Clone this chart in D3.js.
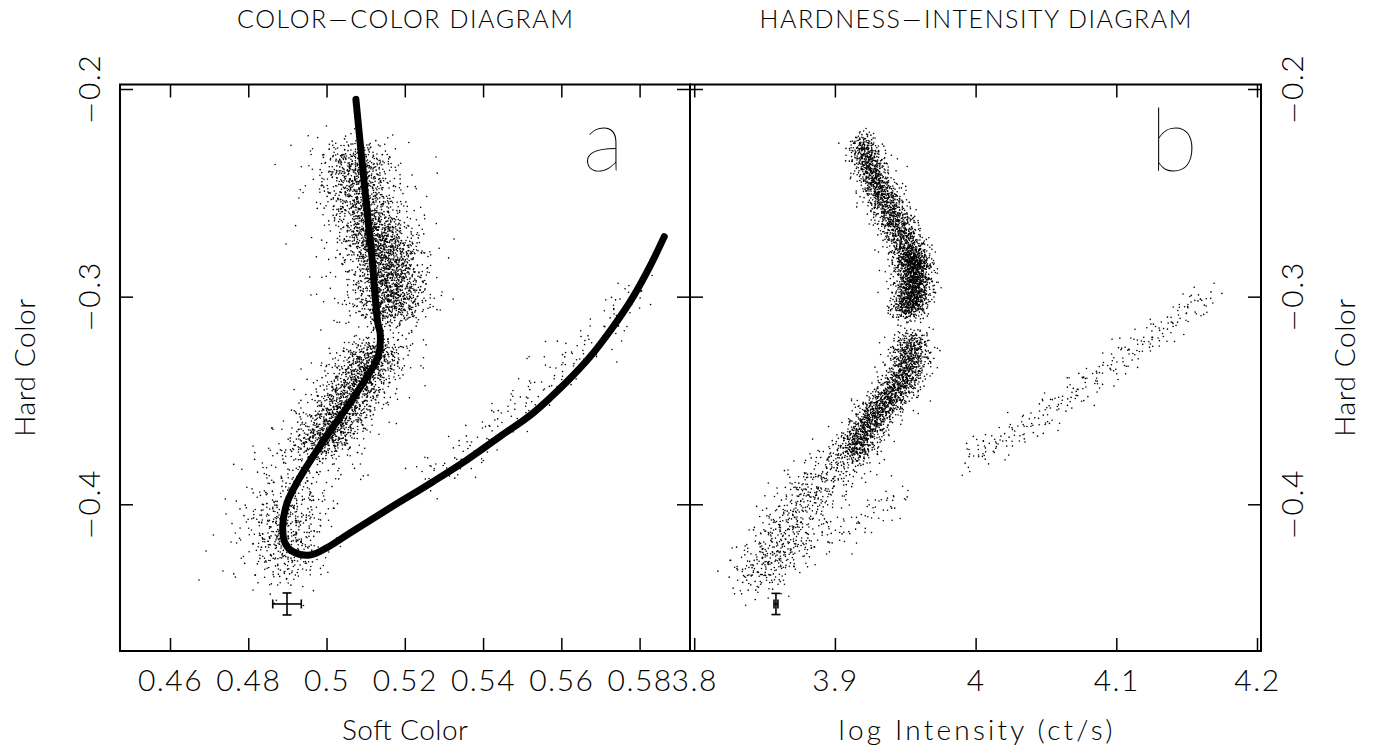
<!DOCTYPE html>
<html><head><meta charset="utf-8">
<script src="https://cdn.jsdelivr.net/npm/d3@7"></script>
<style>
html,body{margin:0;padding:0;background:#fff;}
svg{display:block;}
text{font-family:Lato,'DejaVu Sans',sans-serif;fill:#000;}
</style></head><body>
<svg id="chart" width="1381" height="749"></svg>
<script>
// ---------------- data ----------------
const softTicks = [0.46, 0.48, 0.50, 0.52, 0.54, 0.56, 0.58];
const intensityTicks = [3.8, 3.9, 4.0, 4.1, 4.2];
const hardTicks = [-0.2, -0.3, -0.4];
const softDomain = [0.44722, 0.59288];
const intensityDomain = [3.79701, 4.20284];
const hardDomain = [-0.47065, -0.19783];

// thick Z-track in the colour-colour diagram
const trackSoft = [0.5075,0.5098,0.5116,0.5131,0.5137,0.5132,0.5103,0.5060,0.5017,0.4965,0.4924,0.4899,0.4888,0.4894,0.4914,0.4958,0.5000,0.5060,0.5154,0.5272,0.5358,0.5443,0.5528,0.5614,0.5673,0.5730,0.5783,0.5827,0.5863];
const trackHard = [-0.2050,-0.2486,-0.2810,-0.3127,-0.3175,-0.3289,-0.3386,-0.3512,-0.3626,-0.3771,-0.3897,-0.3994,-0.4108,-0.4186,-0.4228,-0.4244,-0.4210,-0.4138,-0.4027,-0.3891,-0.3787,-0.3674,-0.3560,-0.3410,-0.3291,-0.3151,-0.3002,-0.2852,-0.2711];

// point clouds: [ridge line [x,y]..., spread x, spread y, number of points]
const ccdBands = [
  [[[0.5073,-0.2294],[0.5086,-0.2535],[0.5111,-0.2655]], 0.0041, 0.0038, 700],
  [[[0.5116,-0.2655],[0.5157,-0.2824],[0.5167,-0.3016],[0.5157,-0.3103]], 0.0043, 0.0038, 1500],
  [[[0.5060,-0.2294],[0.5124,-0.2679],[0.5137,-0.3064]], 0.0072, 0.0072, 500],
  [[[0.5132,-0.3233],[0.5086,-0.3401],[0.5034,-0.3570],[0.4978,-0.3739]], 0.0038, 0.0029, 1300],
  [[[0.5137,-0.3209],[0.5034,-0.3546],[0.4932,-0.3835],[0.4894,-0.4027],[0.4886,-0.4268]], 0.0064, 0.0058, 700],
  [[[0.4907,-0.3979],[0.4894,-0.4172],[0.4894,-0.4340]], 0.0046, 0.0072, 300],
  [[[0.5239,-0.3883],[0.5392,-0.3714],[0.5494,-0.3498],[0.5597,-0.3353],[0.5699,-0.3185],[0.5801,-0.2968]], 0.0026, 0.0058, 200]
];
const ccdSingles = [[0.46741,-0.43645],[0.4692,-0.42249],[0.47354,-0.43212],[0.47431,-0.40467],[0.47559,-0.41815],[0.48121,-0.44127],[0.48964,-0.27464],[0.52798,-0.23274],[0.53258,-0.27223],[0.49603,-0.2992],[0.52951,-0.29776]];

const hidBands = [
  [[[3.9193,-0.2246],[3.9249,-0.2390],[3.9335,-0.2510]], 0.0050, 0.0029, 600],
  [[[3.9335,-0.2510],[3.9427,-0.2631],[3.9520,-0.2751],[3.9555,-0.2848]], 0.0064, 0.0029, 800],
  [[[3.9548,-0.2799],[3.9569,-0.2920],[3.9555,-0.3016],[3.9505,-0.3074]], 0.0060, 0.0029, 1200],
  [[[3.9214,-0.2294],[3.9392,-0.2583],[3.9548,-0.2872],[3.9498,-0.3064]], 0.0085, 0.0048, 400],
  [[[3.9555,-0.3194],[3.9541,-0.3281],[3.9498,-0.3392],[3.9406,-0.3474],[3.9306,-0.3546],[3.9214,-0.3642],[3.9122,-0.3763]], 0.0064, 0.0029, 1500],
  [[[3.9548,-0.3209],[3.9463,-0.3425],[3.9249,-0.3618],[3.9072,-0.3811]], 0.0095, 0.0048, 400],
  [[[3.9036,-0.3796],[3.8880,-0.3907],[3.8752,-0.4003],[3.8645,-0.4148],[3.8525,-0.4292],[3.8397,-0.4365]], 0.0114, 0.0058, 620],
  [[[3.8468,-0.4292],[3.8752,-0.4210],[3.9036,-0.4124],[3.9285,-0.4037],[3.9498,-0.3955]], 0.0057, 0.0048, 120],
  [[[3.9925,-0.3787],[4.0173,-0.3690],[4.0458,-0.3594],[4.0671,-0.3474],[4.0884,-0.3377],[4.1168,-0.3233],[4.1417,-0.3112],[4.1666,-0.2992]], 0.0043, 0.0043, 280]
];

// typical error bars [x, y, xerr, yerr]
const ccdError = [0.4899, -0.448, 0.00365, 0.0053];
const hidError = [3.8581, -0.448, 0.0014, 0.0051];

const titles = [["COLOR", "COLOR  DIAGRAM"], ["HARDNESS", "INTENSITY  DIAGRAM"]];
const xTitles = ["Soft Color", "log Intensity (ct/s)"];
const yTitle = "Hard Color";
const panelLetters = ["a", "b"];

// ---------------- drawing ----------------
const svg = d3.select("#chart");
const yTop = 84.5, yBot = 651;
const aL = 120, aR = 690, bL = 690, bR = 1261;
const xA = d3.scaleLinear().domain(softDomain).range([aL, aR]);
const xB = d3.scaleLinear().domain(intensityDomain).range([bL, bR]);
const y = d3.scaleLinear().domain(hardDomain).range([yBot, yTop]);
const fmt = d3.format("~g");
const MINUS = "\u2212";

function halton(i, b) { let f = 1, r = 0; while (i > 0) { f /= b; r += f * (i % b); i = Math.floor(i / b); } return r; }

function cloud(bands, xs, offset) {
  const out = []; let idx = offset;
  bands.forEach(([path, sx, sy, n]) => {
    const px = path.map(p => [xs(p[0]), y(p[1])]);
    const segL = []; let tot = 0;
    for (let i = 1; i < px.length; i++) { const l = Math.hypot(px[i][0]-px[i-1][0], px[i][1]-px[i-1][1]); segL.push(l); tot += l; }
    for (let k = 0; k < n; k++) {
      idx++;
      let t = halton(idx, 2) * tot, s = 0;
      while (s < segL.length - 1 && t > segL[s]) { t -= segL[s]; s++; }
      const f = Math.min(1, t / segL[s]);
      const cx = path[s][0] + (path[s+1][0] - path[s][0]) * f;
      const cy = path[s][1] + (path[s+1][1] - path[s][1]) * f;
      const u = Math.max(halton(idx, 3), 1e-4), v = halton(idx, 5);
      const r = Math.min(Math.sqrt(-2 * Math.log(u)), 2.8);
      out.push([cx + sx * r * Math.cos(2 * Math.PI * v), cy + sy * r * Math.sin(2 * Math.PI * v)]);
    }
    idx += 137;
  });
  return out;
}

const ccdPts = cloud(ccdBands, xA, 11).concat(ccdSingles);
const hidPts = cloud(hidBands, xB, 5003);

const dots = svg.append("g").attr("fill", "#000");
dots.selectAll("circle.a").data(ccdPts).join("circle").attr("class","a")
  .attr("cx", d => xA(d[0])).attr("cy", d => y(d[1])).attr("r", 0.8);
dots.selectAll("circle.b").data(hidPts).join("circle").attr("class","b")
  .attr("cx", d => xB(d[0])).attr("cy", d => y(d[1])).attr("r", 0.8);

// track
const track = trackSoft.map((s, i) => [s, trackHard[i]]);
svg.append("path").datum(track)
  .attr("d", d3.line().x(d => xA(d[0])).y(d => y(d[1])).curve(d3.curveCatmullRom.alpha(0.5)))
  .attr("fill", "none").attr("stroke", "#000").attr("stroke-width", 7)
  .attr("stroke-linecap", "round").attr("stroke-linejoin", "round");

// error bars
function errBar(e, xs) {
  const g = svg.append("g").attr("stroke", "#000").attr("stroke-width", 1.6).attr("fill", "none");
  const cx = xs(e[0]), cy = y(e[1]);
  const x0 = xs(e[0] - e[2]), x1 = xs(e[0] + e[2]);
  const y0 = y(e[1] - e[3]), y1 = y(e[1] + e[3]);
  g.append("line").attr("x1", x0).attr("x2", x1).attr("y1", cy).attr("y2", cy);
  g.append("line").attr("x1", x0).attr("x2", x0).attr("y1", cy - 4.5).attr("y2", cy + 4.5);
  g.append("line").attr("x1", x1).attr("x2", x1).attr("y1", cy - 4.5).attr("y2", cy + 4.5);
  g.append("line").attr("x1", cx).attr("x2", cx).attr("y1", y0).attr("y2", y1);
  g.append("line").attr("x1", cx - 4.5).attr("x2", cx + 4.5).attr("y1", y0).attr("y2", y0);
  g.append("line").attr("x1", cx - 4.5).attr("x2", cx + 4.5).attr("y1", y1).attr("y2", y1);
}
errBar(ccdError, xA);
errBar(hidError, xB);

// frames and ticks
function panel(xs, ticks, l, r) {
  svg.append("rect").attr("x", l).attr("y", yTop).attr("width", r - l).attr("height", yBot - yTop)
    .attr("fill", "none").attr("stroke", "#000").attr("stroke-width", 2);
  const tk = g => { g.select(".domain").remove(); g.selectAll(".tick line").attr("stroke-width", 1.5); };
  svg.append("g").attr("transform", `translate(0,${yBot})`)
    .call(d3.axisBottom(xs).tickValues(ticks).tickSize(-13).tickPadding(19).tickFormat(fmt))
    .call(tk).call(g => g.selectAll("text").attr("font-size", 30).attr("font-weight", 300)
      .attr("font-family", "Lato").attr("letter-spacing", 1.5));
  svg.append("g").attr("transform", `translate(0,${yTop})`)
    .call(d3.axisTop(xs).tickValues(ticks).tickSize(-13).tickFormat("")).call(tk);
  svg.append("g").attr("transform", `translate(${l},0)`)
    .call(d3.axisLeft(y).tickValues(hardTicks).tickSize(-13).tickFormat("")).call(tk);
  svg.append("g").attr("transform", `translate(${r},0)`)
    .call(d3.axisRight(y).tickValues(hardTicks).tickSize(-13).tickFormat("")).call(tk);
}
panel(xA, softTicks, aL, aR);
panel(xB, intensityTicks, bL, bR);

// y tick labels (rotated), long minus sign as in the original
[100, 1303].forEach(bx => {
  svg.append("g").selectAll("text").data(hardTicks).join("text")
    .attr("transform", d => `translate(${bx},${y(d)}) rotate(-90)`)
    .attr("text-anchor", "middle").attr("font-size", 30).attr("font-weight", 300)
    .attr("letter-spacing", 1.5)
    .each(function (d) {
      const s = fmt(d), t = d3.select(this);
      if (s[0] === MINUS) {
        t.append("tspan").attr("font-family", "DejaVu Sans").attr("font-weight", 200).attr("font-size", 27).text(MINUS);
        t.append("tspan").text(s.slice(1));
      } else t.text(s);
    });
});

// titles
function title(parts, cx, len) {
  const t = svg.append("text").attr("x", cx).attr("y", 28).attr("text-anchor", "middle")
    .attr("font-size", 25).attr("font-weight", 300).attr("textLength", len).attr("lengthAdjust", "spacing");
  t.append("tspan").text(parts[0]);
  t.append("tspan").attr("font-family", "DejaVu Sans").attr("font-weight", 200).text(MINUS);
  t.append("tspan").text(parts[1]);
}
title(titles[0], (aL + aR) / 2, 336);
title(titles[1], (bL + bR) / 2, 432);

// axis titles
svg.append("text").attr("x", (aL + aR) / 2).attr("y", 740).attr("text-anchor", "middle")
  .attr("font-size", 28).attr("font-weight", 300).attr("textLength", 126).attr("lengthAdjust", "spacing").text(xTitles[0]);
svg.append("text").attr("x", (bL + bR) / 2).attr("y", 740).attr("text-anchor", "middle")
  .attr("font-size", 28).attr("font-weight", 300).attr("textLength", 274).attr("lengthAdjust", "spacing").text(xTitles[1]);
[35, 1355].forEach(bx => {
  svg.append("text").attr("transform", `translate(${bx},${(yTop + yBot) / 2}) rotate(-90)`)
    .attr("text-anchor", "middle").attr("font-size", 28).attr("font-weight", 300)
    .attr("textLength", 138).attr("lengthAdjust", "spacing").text(yTitle);
});

// panel letters
svg.append("text").attr("x", 624).attr("y", 171).attr("text-anchor", "end")
  .attr("font-size", 88).attr("font-weight", 100).text(panelLetters[0]);
svg.append("text").attr("x", 1150).attr("y", 171).attr("text-anchor", "start")
  .attr("font-size", 88).attr("font-weight", 100).text(panelLetters[1]);
</script>
</body></html>
